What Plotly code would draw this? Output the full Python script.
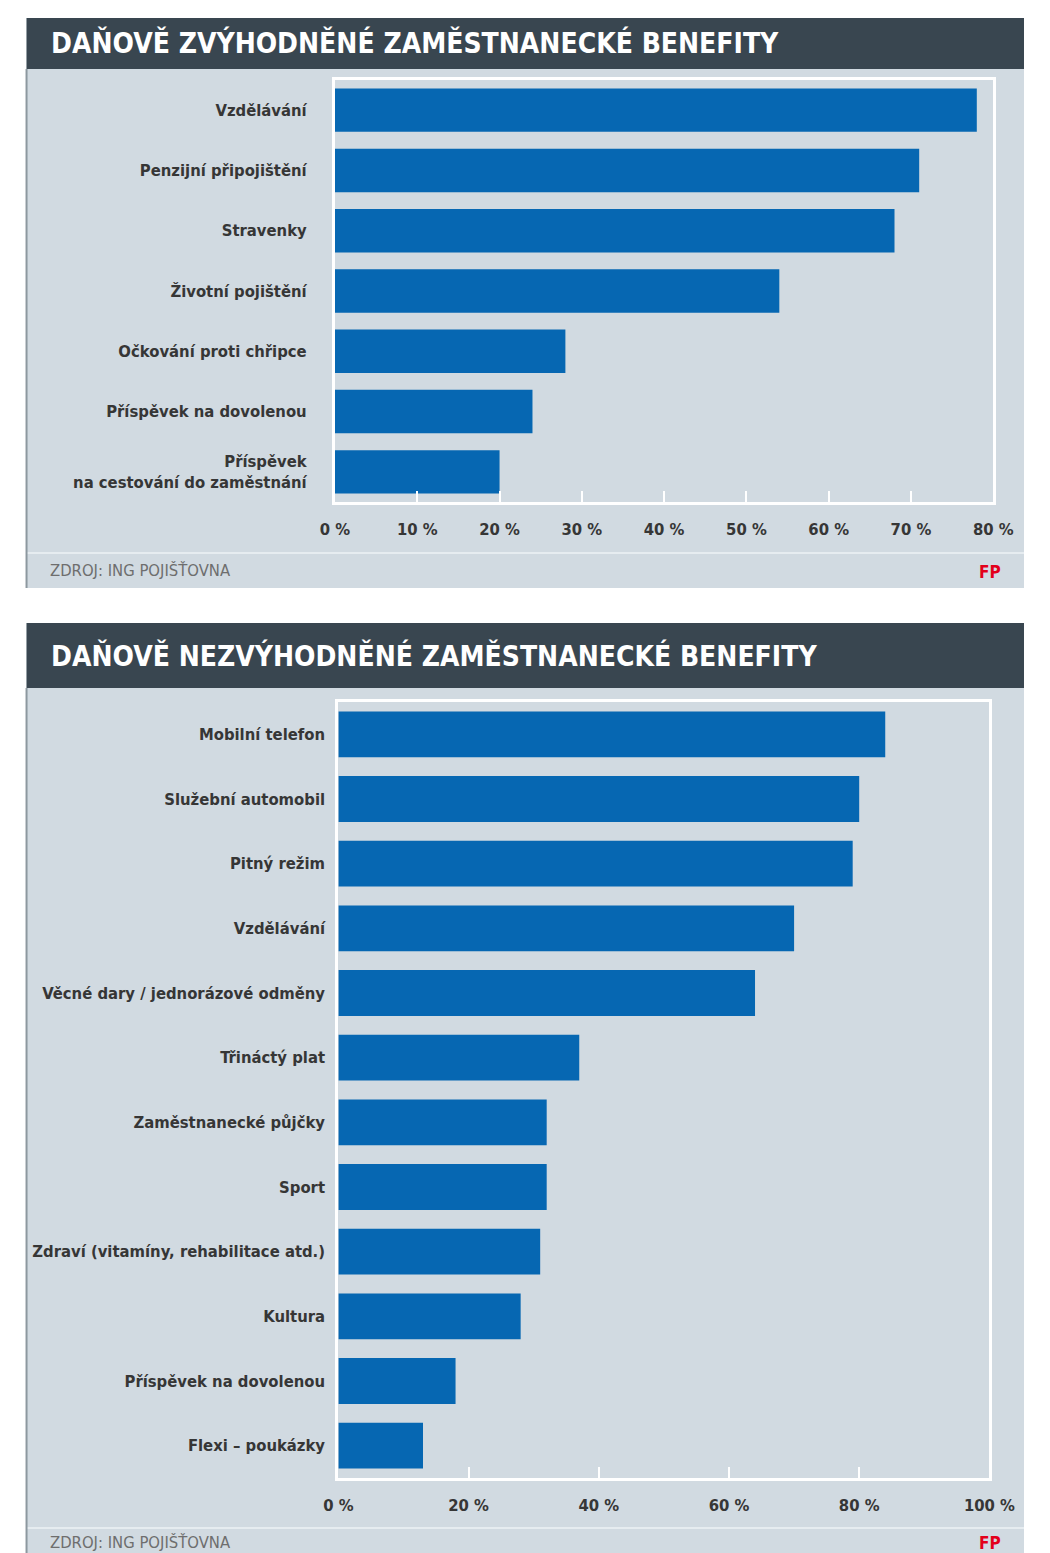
import plotly.graph_objects as go

W, H = 1050, 1553

# --- data -------------------------------------------------------------
top_title = "DAŇOVĚ ZVÝHODNĚNÉ ZAMĚSTNANECKÉ BENEFITY"
top_categories = [
    "Vzdělávání",
    "Penzijní připojištění",
    "Stravenky",
    "Životní pojištění",
    "Očkování proti chřipce",
    "Příspěvek na dovolenou",
    "Příspěvek<br>na cestování do zaměstnání",
]
top_values = [78, 71, 68, 54, 28, 24, 20]
top_tickvals = [0, 10, 20, 30, 40, 50, 60, 70, 80]
top_ticktext = ["0 %", "10 %", "20 %", "30 %", "40 %", "50 %", "60 %", "70 %", "80 %"]

bottom_title = "DAŇOVĚ NEZVÝHODNĚNÉ ZAMĚSTNANECKÉ BENEFITY"
bottom_categories = [
    "Mobilní telefon",
    "Služební automobil",
    "Pitný režim",
    "Vzdělávání",
    "Věcné dary / jednorázové odměny",
    "Třináctý plat",
    "Zaměstnanecké půjčky",
    "Sport",
    "Zdraví (vitamíny, rehabilitace atd.)",
    "Kultura",
    "Příspěvek na dovolenou",
    "Flexi – poukázky",
]
bottom_values = [84, 80, 79, 70, 64, 37, 32, 32, 31, 28, 18, 13]
bottom_tickvals = [0, 20, 40, 60, 80, 100]
bottom_ticktext = ["0 %", "20 %", "40 %", "60 %", "80 %", "100 %"]

source_text = "ZDROJ: ING POJIŠŤOVNA"
brand_text = "FP"

# --- styling ----------------------------------------------------------
PANEL_BG = "#d1dae1"
HEADER_BG = "#394650"
BAR_BLUE = "#0667b2"
TEXT_DARK = "#363636"
COND = "DejaVu Sans Condensed, Liberation Sans Narrow, sans-serif"
NARROW = "Liberation Sans Narrow, DejaVu Sans Condensed, sans-serif"


def px(x):
    return x / W


def py(y):
    return 1 - y / H


fig = go.Figure()

fig.add_trace(go.Bar(
    x=top_values, y=top_categories, orientation="h",
    marker=dict(color=BAR_BLUE, line=dict(width=0)),
    width=0.72, xaxis="x", yaxis="y", hoverinfo="skip", showlegend=False,
))
fig.add_trace(go.Bar(
    x=bottom_values, y=bottom_categories, orientation="h",
    marker=dict(color=BAR_BLUE, line=dict(width=0)),
    width=0.71, xaxis="x2", yaxis="y2", hoverinfo="skip", showlegend=False,
))

tick_font = dict(family=COND, size=16.5, color=TEXT_DARK, weight="bold")

common_x = dict(
    showgrid=False, zeroline=False, ticks="inside", ticklen=11, tickwidth=2,
    tickcolor="white", showline=True, mirror=True, linecolor="white",
    linewidth=3, tickfont=tick_font, fixedrange=True, ticklabelstandoff=10,
)
common_y = dict(
    type="category", autorange="reversed", showgrid=False, zeroline=False,
    ticks="", showline=True, mirror=True, linecolor="white", linewidth=3,
    tickfont=tick_font, fixedrange=True,
)

shapes = []
# panel backgrounds, headers, footer separators, left panel edges
for top, bottom, head_bottom, sep in [(18, 588, 69, 553), (623, 1560, 688, 1528)]:
    shapes.append(dict(type="rect", xref="paper", yref="paper", layer="below",
                       x0=px(12), x1=px(1050), y0=py(bottom), y1=py(top),
                       fillcolor=PANEL_BG, line=dict(width=0)))
    shapes.append(dict(type="rect", xref="paper", yref="paper", layer="below",
                       x0=px(12), x1=px(1050), y0=py(head_bottom), y1=py(top),
                       fillcolor=HEADER_BG, line=dict(width=0)))
    shapes.append(dict(type="line", xref="paper", yref="paper", layer="below",
                       x0=px(12), x1=px(1050), y0=py(sep), y1=py(sep),
                       line=dict(color="#e6ecf0", width=2)))
    shapes.append(dict(type="line", xref="paper", yref="paper", layer="below",
                       x0=px(12), x1=px(12), y0=py(bottom), y1=py(head_bottom),
                       line=dict(color="#8d989f", width=2)))

annotations = []
for title, ty in [(top_title, 43), (bottom_title, 656)]:
    annotations.append(dict(
        text=title, xref="paper", yref="paper", x=px(35), y=py(ty),
        xanchor="left", yanchor="middle", showarrow=False,
        font=dict(family=COND, size=28, color="white", weight="bold"),
    ))
for fy in [571, 1542]:
    annotations.append(dict(
        text=source_text, xref="paper", yref="paper", x=px(34), y=py(fy),
        xanchor="left", yanchor="middle", showarrow=False,
        font=dict(family=NARROW, size=16.5, color="#6e6e6e"),
    ))
    annotations.append(dict(
        text=brand_text, xref="paper", yref="paper", x=px(1015), y=py(fy + 1),
        xanchor="center", yanchor="middle", showarrow=False,
        font=dict(family=COND, size=17, color="#e3001b", weight="bold"),
    ))

fig.update_layout(
    width=W, height=H, margin=dict(l=0, r=0, t=0, b=0),
    paper_bgcolor="white", plot_bgcolor="rgba(0,0,0,0)",
    xaxis=dict(domain=[px(333), px(1018)], anchor="y", range=[0, 80],
               tickvals=top_tickvals, ticktext=top_ticktext, **common_x),
    yaxis=dict(domain=[py(502), py(80)], anchor="x", ticklabelstandoff=22, **common_y),
    xaxis2=dict(domain=[px(336.5), px(1014)], anchor="y2", range=[0, 100],
                tickvals=bottom_tickvals, ticktext=bottom_ticktext, **common_x),
    yaxis2=dict(domain=[py(1478), py(702)], anchor="x2", ticklabelstandoff=7, **common_y),
    shapes=shapes, annotations=annotations,
)

fig.write_html("out.html")
